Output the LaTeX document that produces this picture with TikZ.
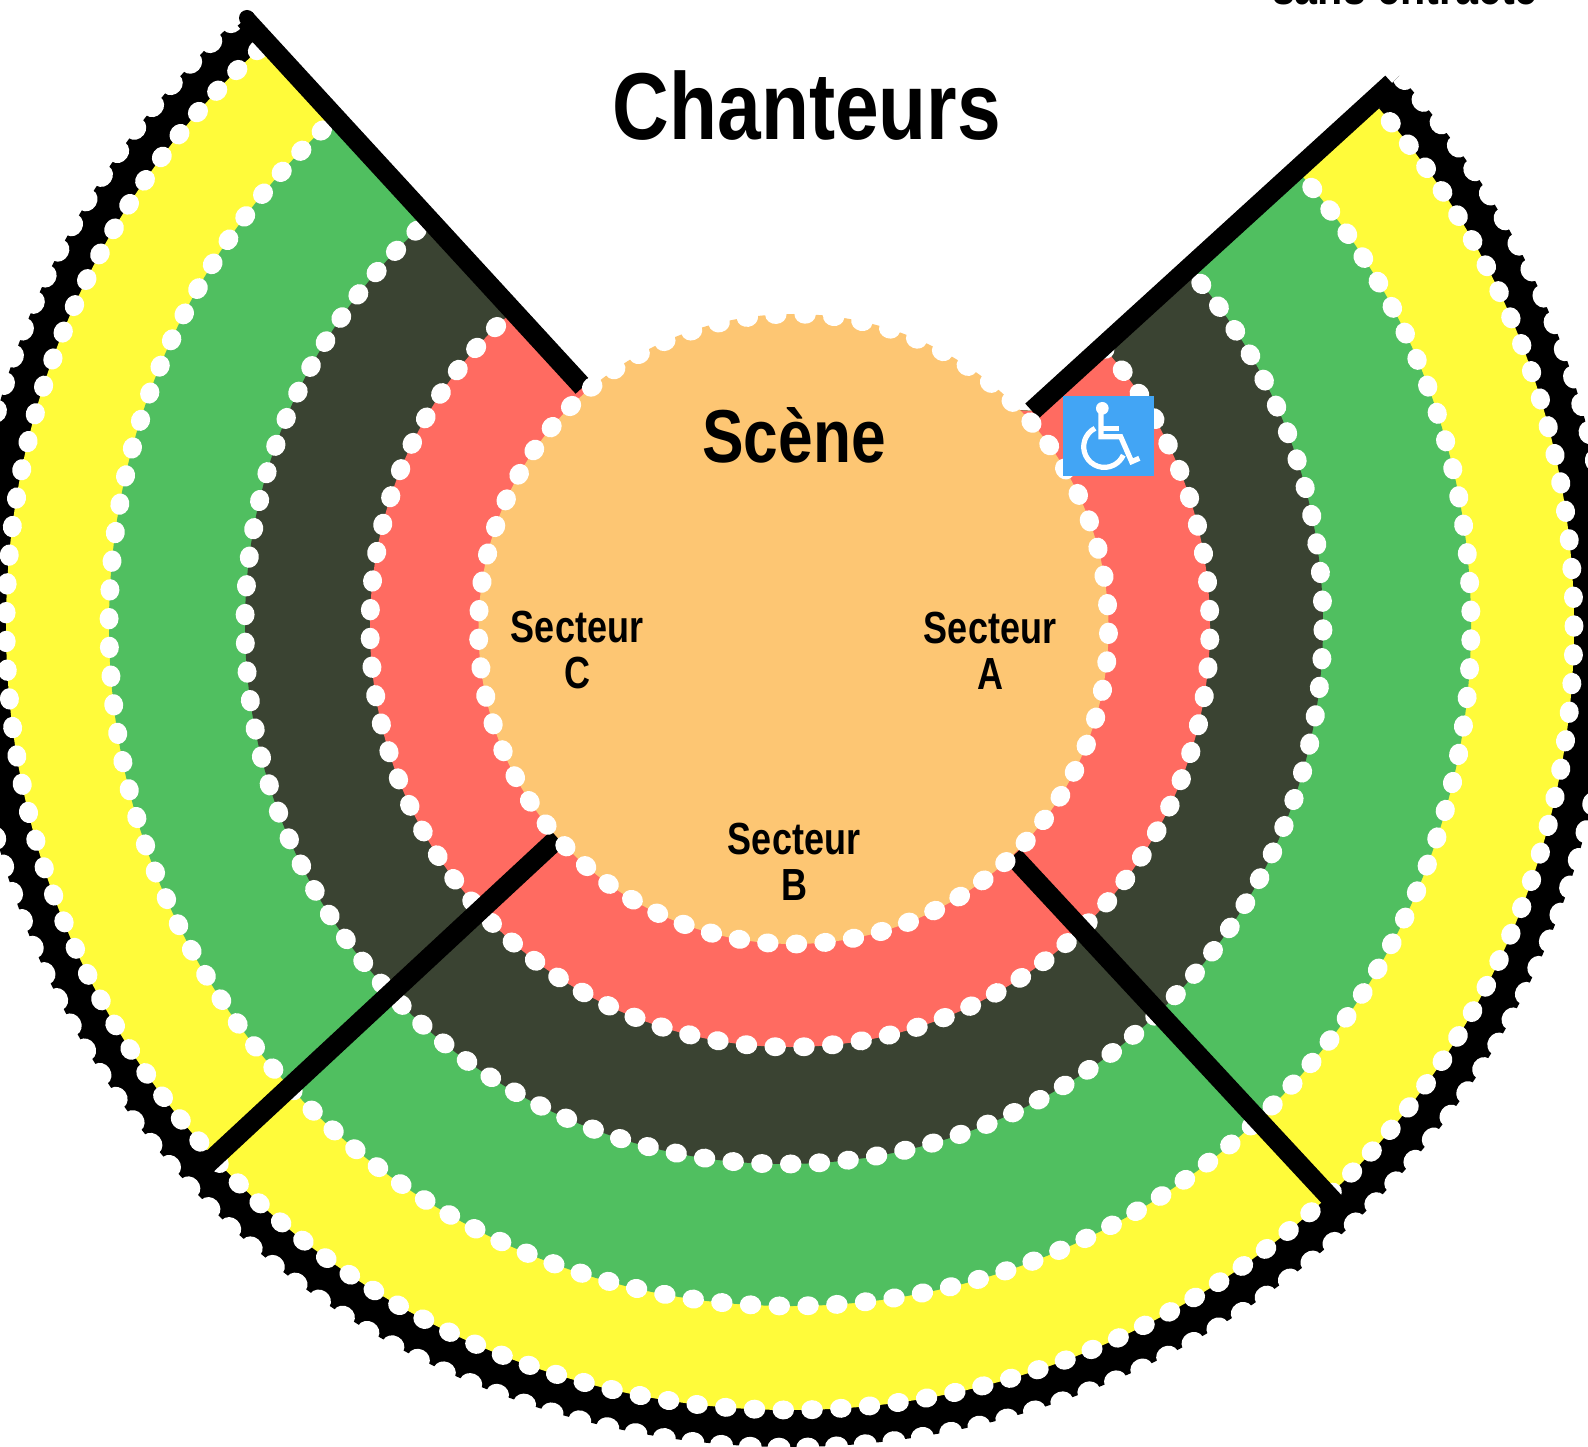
\documentclass[tikz,border=0pt]{standalone}
\usepackage{fontspec}
\setmainfont{Liberation Sans}
\definecolor{ctred}{HTML}{FF6B61}
\definecolor{ctdark}{HTML}{3A4332}
\definecolor{ctgreen}{HTML}{50BF60}
\definecolor{ctyellow}{HTML}{FFFB3A}
\definecolor{ctorange}{HTML}{FDC673}
\definecolor{ctblue}{HTML}{42A5F5}
\tikzset{
  sepline/.style={line width=20pt,black},
  bigtitle/.style={font=\fontsize{95}{95}\selectfont\bfseries,xscale=.826,transform shape,anchor=base,inner sep=0pt},
  scenetitle/.style={font=\fontsize{75}{75}\selectfont\bfseries,xscale=.83,transform shape,anchor=base,inner sep=0pt},
  sectlabel/.style={font=\fontsize{45}{46}\selectfont\bfseries,xscale=.8,transform shape,align=center,inner sep=0pt},
  noteline/.style={font=\fontsize{50}{50}\selectfont\bfseries,xscale=.825,transform shape,anchor=base,inner sep=0pt},
  whitedot/.style={fill=white},
  icon/.style={white,line width=5.2pt,line cap=butt,line join=miter}
}
% centre x, centre y, radius, offset of one dot from the bottom, spacing, dot radius, fill
\newcommand{\dotring}[7]{%
  \begin{scope}[shift={(#1,#2)}]
  \ifx\relax#7\relax\else\fill[#7] (0,0) circle[radius=#3];\fi
  \pgfmathsetmacro\stp{#5/#3*57.29578}%
  \pgfmathtruncatemacro\nn{180/\stp}%
  \foreach \i in {-\nn,...,\nn}{%
    \pgfmathsetmacro\ang{90-#4/#3*57.29578+\i*\stp}%
    \fill[whitedot,shift={(\ang:#3)},rotate=-\ang] (0,0) ellipse[x radius=#6*0.93,y radius=#6*1.05];
  }%
  \end{scope}%
}
\begin{document}
\begin{tikzpicture}[x=1pt,y=-1pt]
\useasboundingbox (0,0) rectangle (1588,1447);
\clip (0,0) rectangle (1588,1447);
% separator ends
\coordinate (tlo) at (245,19);  \coordinate (tli) at (583,387);
\coordinate (tro) at (1392,83); \coordinate (tri) at (1032,411);
\coordinate (blo) at (206,1165); \coordinate (bli) at (558,838);
\coordinate (bro) at (1337,1205); \coordinate (bri) at (1013,856);
% rings
\begin{scope}
  \clip (214,-17) -- (tlo) -- (tli) -- (tri) -- (tro) -- (1461,16) -- (1800,16) -- (1800,1600) -- (-200,1600) -- (-200,-17) -- cycle;
  \fill[black] (790,626) circle[radius=821];
  \dotring{790}{626}{822}{-11}{28.8}{11}{}
  \dotring{790}{626}{784}{-6.7}{28.8}{10.2}{ctyellow}
  \dotring{790}{625}{681}{-10.7}{28.8}{10.2}{ctgreen}
  \dotring{784}{625}{539}{6.7}{28.8}{10.2}{ctdark}
  \dotring{790}{627}{420}{14}{28.8}{10.2}{ctred}
\end{scope}
% separators
\fill[black] (247,18) circle[radius=8];
\draw[sepline] (tlo) -- (tli);
\draw[sepline] (tro) -- (tri);
\draw[sepline] (blo) -- (bli);
\draw[sepline] (bro) -- (bri);
% stage
\dotring{793.5}{629}{315}{3}{28.68}{10.2}{ctorange}
% wheelchair sign
\begin{scope}[shift={(1000,320)},x=.3333pt,y=-.3333pt]
  \fill[ctblue] (189,228) rectangle (461,467);
  \fill[white] (307,265) circle[radius=19];
  \draw[icon] (303,275) -- (303,350) -- (362,350) -- (395,425) -- (418,415);
  \draw[icon] (303,325) -- (358,325);
  \draw[icon] (285,325) arc[start angle=243,end angle=24,radius=62];
\end{scope}
% labels
\node[bigtitle] (chant) at (807,139.5) {Chanteurs};
\node[scenetitle] (scene) at (794,462) {Scène};
\node[sectlabel] (sa) at (990,650.5) {Secteur\\A};
\node[sectlabel] (sc) at (577,650.5) {Secteur\\C};
\node[sectlabel] (sb) at (794,861.5) {Secteur\\B};
\node[noteline] (note) at (1405,5) {sans entracte};
\end{tikzpicture}
\end{document}
